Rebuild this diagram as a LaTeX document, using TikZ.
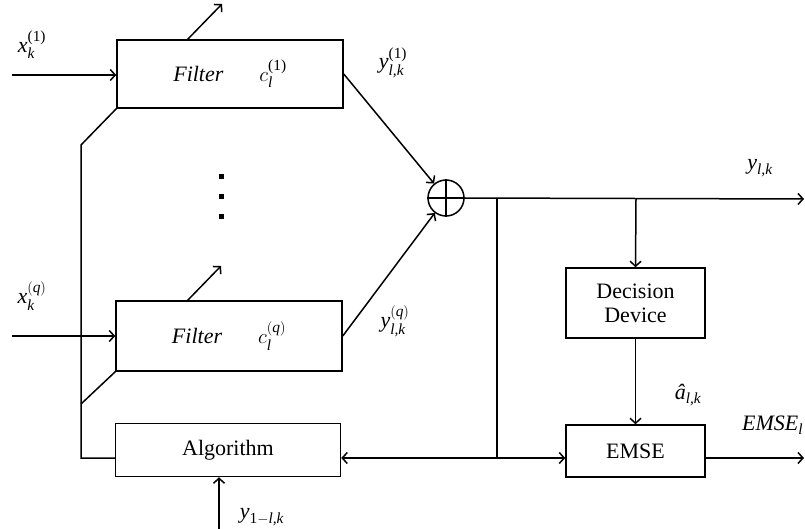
\documentclass[tikz,border=0pt]{standalone}
\usepackage{amsmath}
\usepackage{fontspec}
\setmainfont{Liberation Serif}
\usetikzlibrary{arrows.meta}
\tikzset{
  blk/.style={draw, line width=1.5pt, rectangle, inner sep=0pt, align=center},
  conn/.style={line width=1.5pt},
  arr/.style={conn, -{Straight Barb[length=5pt,width=11pt,line width=1.5pt]}},
  lbl/.style={inner sep=0pt},
  dotsq/.style={fill, minimum size=5pt, inner sep=0pt, rectangle}
}
\begin{document}
\begin{tikzpicture}[x=1pt,y=-1pt, font=\fontsize{22}{26}\selectfont]
\useasboundingbox (0,0) rectangle (805,529);
% blocks
\node[blk, minimum width=226pt, minimum height=68pt] (f1) at (230,74)
  {\textit{Filter}\hspace{36pt}$c_{\textit{l}}^{\textrm{(1)}}$};
\node[blk, minimum width=226pt, minimum height=70pt] (f2) at (229,336)
  {\textit{Filter}\hspace{36pt}$c_{\textit{l}}^{(\textit{q})}$};
\node[blk, minimum width=225pt, minimum height=53pt] (alg) at (228,450) {Algorithm};
\node[blk, minimum width=139pt, minimum height=70pt] (dec) at (635.5,303) {Decision\\[-2pt]Device};
\node[blk, minimum width=139pt, minimum height=52pt] (emse) at (635.5,451) {EMSE};
\node[draw, circle, line width=1.5pt, minimum size=36pt, inner sep=0pt] (sum) at (446,198) {};
\draw[line width=1.5pt] (sum.north) -- (sum.south) (sum.west) -- (sum.east);
% dots
\node[dotsq] (d1) at (221,177) {};
\node[dotsq] (d2) at (221,197) {};
\node[dotsq] (d3) at (221,217) {};
% coordinates
\coordinate (in1) at (12,75);
\coordinate (in2) at (12,336);
\coordinate (p1a) at (187,40);
\coordinate (p1b) at (222,4);
\coordinate (p2a) at (187,301);
\coordinate (p2b) at (221,266);
\coordinate (bl1) at (81,145);
\coordinate (bl2) at (81,404);
\coordinate (bl3) at (81,458);
\coordinate (tapA) at (497,199);
\coordinate (tapAb) at (497,458);
\coordinate (tapB) at (636,199);
\coordinate (out) at (804,199);
\coordinate (eout) at (804,458);
\coordinate (yin) at (219,529);
% connectors
\draw[arr] (in1) -- (in1 -| f1.west);
\draw[arr] (in2) -- (in2 -| f2.west);
\draw[arr] (p1a) -- (p1b);
\draw[arr] (p2a) -- (p2b);
\draw[conn] (f1.south west) -- (bl1) -- (bl3) -- (bl3 -| alg.west);
\draw[conn] (f2.south west) -- (bl2);
\draw[arr] (f1.east) -- (sum);
\draw[arr] (f2.east) -- (sum);
\draw[arr] (sum.east) -- (out);
\draw[conn] (tapA) -- (tapAb);
\draw[arr] (tapAb) -- (tapAb -| alg.east);
\draw[arr] (tapAb) -- (tapAb -| emse.west);
\draw[arr] (tapB) -- (dec.north);
\draw[arr] (dec.south) -- (emse.north);
\draw[arr] (tapAb -| emse.east) -- (eout);
\draw[arr] (yin) -- (yin |- alg.south);
% labels
\node[lbl] (lx1) at (32,45) {$\textit{x}_{\textit{k}}^{\textrm{(1)}}$};
\node[lbl] (lxq) at (32,296) {$\textit{x}_{\textit{k}}^{(\textit{q})}$};
\node[lbl] (ly1) at (393,63) {$\textit{y}_{\textit{l,k}}^{\textrm{(1)}}$};
\node[lbl] (lyq) at (395,321) {$\textit{y}_{\textit{l,k}}^{(\textit{q})}$};
\node[lbl] (ly) at (760,168) {$\textit{y}_{\textit{l,k}}$};
\node[lbl] (la) at (688,395) {$\textit{â}_{\textit{l,k}}$};
\node[lbl, anchor=west] (le) at (742,425) {$\textit{EMSE}_{\textit{l}}$};
\node[lbl] (lyo) at (262,517) {$\textit{y}_{\textrm{1}-\textit{l,k}}$};
\end{tikzpicture}
\end{document}
